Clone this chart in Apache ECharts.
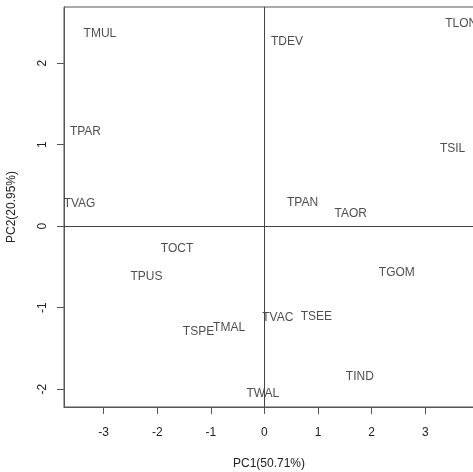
<!DOCTYPE html>
<html>
<head>
<meta charset="utf-8">
<script src="https://cdn.jsdelivr.net/npm/echarts@6/dist/echarts.min.js"></script>
<style>
  html, body { margin: 0; padding: 0; background: #fff; }
  #chart { width: 473px; height: 472px; }
</style>
</head>
<body>
<div id="chart"></div>
<script>
// sample names and PCA scores
const names = ['TMUL', 'TPAR', 'TVAG', 'TDEV', 'TLON', 'TSIL', 'TPAN', 'TAOR', 'TOCT',
  'TPUS', 'TSPE', 'TMAL', 'TVAC', 'TSEE', 'TGOM', 'TIND', 'TWAL']
const pc1 = [-3.07, -3.34, -3.45, 0.42, 3.67, 3.51, 0.71, 1.61, -1.63,
  -2.20, -1.23, -0.66, 0.25, 0.97, 2.47, 1.78, -0.03]
const pc2 = [2.36, 1.155, 0.28, 2.26, 2.49, 0.95, 0.29, 0.15, -0.275,
  -0.62, -1.29, -1.245, -1.12, -1.11, -0.57, -1.85, -2.06]
const xTicks = [-3, -2, -1, 0, 1, 2, 3]
const yTicks = [-2, -1, 0, 1, 2]

const points = names.map((n, i) => ({ name: n, value: [pc1[i], pc2[i]] }))

const ink = '#222'
const font = 'Liberation Sans, Arial, sans-serif'

const chart = echarts.init(document.getElementById('chart'))
chart.setOption({
  animation: false,
  grid: {
    left: 64, top: 7, right: -1, bottom: 65,
    outerBoundsMode: 'none',
    containLabel: false,
    show: true, borderColor: '#555', borderWidth: 1, backgroundColor: 'transparent'
  },
  xAxis: {
    type: 'value',
    min: -3.74, max: 3.91,
    name: 'PC1(50.71%)',
    nameLocation: 'middle',
    nameGap: 51,
    nameTextStyle: { color: ink, fontSize: 12, fontFamily: font },
    axisLine: { show: true, onZero: false, lineStyle: { color: '#555' } },
    axisTick: { show: true, length: 7, customValues: xTicks, lineStyle: { color: '#555' } },
    axisLabel: { customValues: xTicks, margin: 20, color: ink, fontSize: 12, fontFamily: font,
      showMinLabel: true, showMaxLabel: true },
    splitLine: { show: false }
  },
  yAxis: {
    type: 'value',
    min: -2.22, max: 2.69,
    name: 'PC2(20.95%)',
    nameLocation: 'middle',
    nameGap: 46,
    nameTextStyle: { color: ink, fontSize: 12, fontFamily: font },
    axisLine: { show: true, onZero: false, lineStyle: { color: '#555' } },
    axisTick: { show: true, length: 7, customValues: yTicks, lineStyle: { color: '#555' } },
    axisLabel: { customValues: yTicks, rotate: 90, margin: 15, color: ink, fontSize: 12, fontFamily: font },
    splitLine: { show: false }
  },
  series: [{
    type: 'scatter',
    data: points,
    symbolSize: 0,
    clip: false,
    label: {
      show: true,
      position: 'inside',
      formatter: p => p.name,
      color: ink,
      fontSize: 12,
      fontFamily: font
    },
    markLine: {
      silent: true,
      symbol: 'none',
      label: { show: false },
      lineStyle: { color: '#444', width: 1, type: 'solid' },
      data: [{ xAxis: 0 }, { yAxis: 0 }]
    }
  }]
})
</script>
</body>
</html>
